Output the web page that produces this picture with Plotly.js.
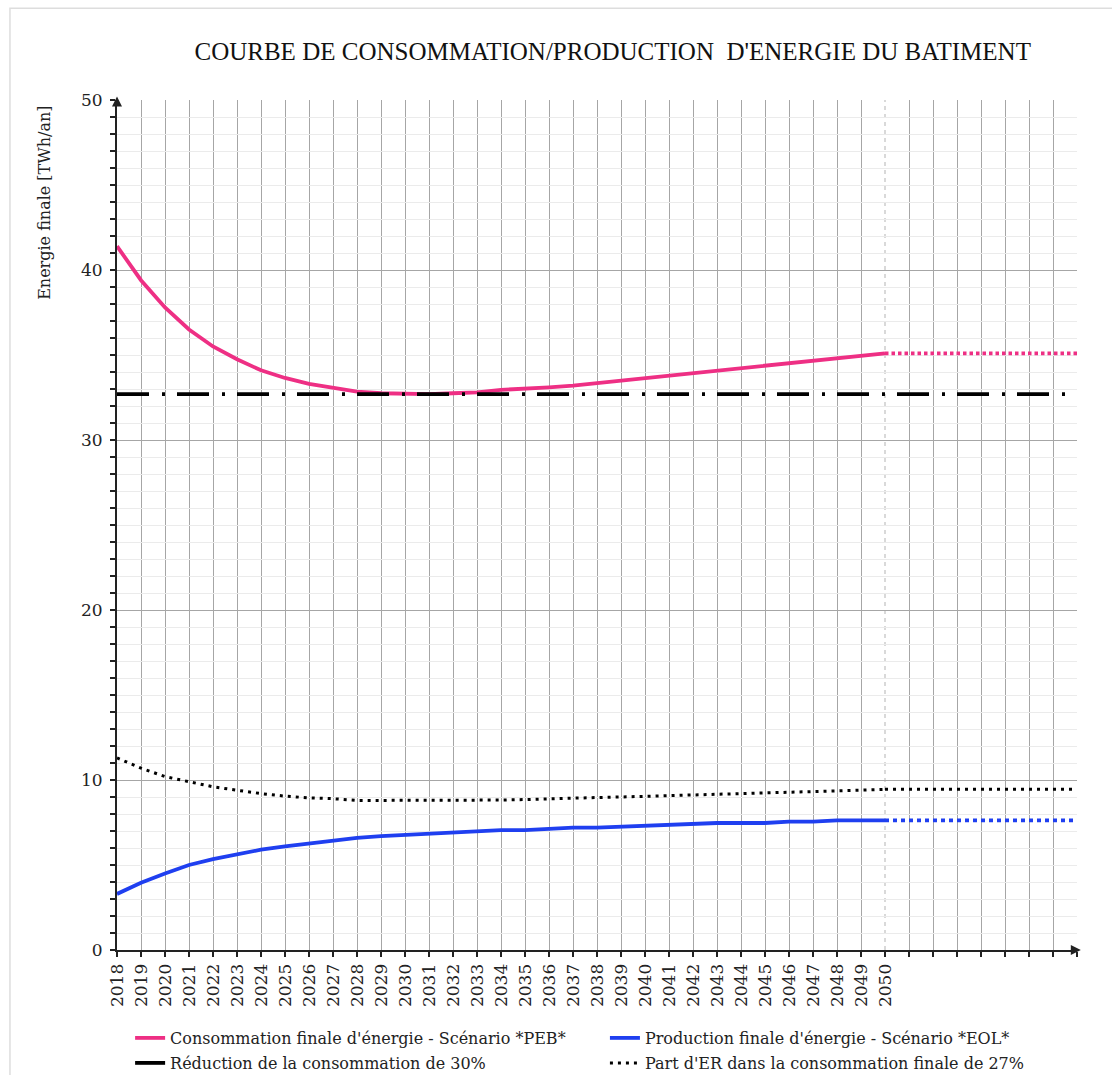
<!DOCTYPE html>
<html>
<head>
<meta charset="utf-8">
<script src="https://cdn.plot.ly/plotly-3.0.1.min.js"></script>
<style>
  html, body { margin: 0; padding: 0; background: #ffffff; }
  #chart { width: 1112px; height: 1075px; }
</style>
</head>
<body>
<div id="chart"></div>
<script>
// ---- Data ----
const years = [2018, 2019, 2020, 2021, 2022, 2023, 2024, 2025, 2026, 2027, 2028,
  2029, 2030, 2031, 2032, 2033, 2034, 2035, 2036, 2037, 2038, 2039, 2040,
  2041, 2042, 2043, 2044, 2045, 2046, 2047, 2048, 2049, 2050];

// Consommation finale d'énergie - Scénario *PEB* (TWh/an)
const consumptionPEB = [41.4, 39.4, 37.8, 36.5, 35.5, 34.75, 34.1, 33.65, 33.3, 33.05, 32.85,
  32.75, 32.7, 32.7, 32.75, 32.8, 32.95, 33.0, 33.1, 33.2, 33.35, 33.5, 33.6,
  33.75, 33.9, 34.05, 34.2, 34.35, 34.5, 34.65, 34.8, 34.95, 35.1];

// Production finale d'énergie - Scénario *EOL* (TWh/an)
const productionEOL = [3.3, 3.95, 4.5, 5.0, 5.35, 5.65, 5.9, 6.1, 6.28, 6.45, 6.6,
  6.7, 6.76, 6.83, 6.9, 6.97, 7.05, 7.05, 7.13, 7.2, 7.2, 7.25, 7.3,
  7.4, 7.4, 7.47, 7.47, 7.47, 7.55, 7.55, 7.63, 7.63, 7.63];

// Part d'ER dans la consommation finale de 27% (TWh/an)
const renewableShare = [11.3, 10.7, 10.2, 9.9, 9.6, 9.4, 9.2, 9.05, 8.95, 8.9, 8.8,
  8.8, 8.8, 8.8, 8.8, 8.8, 8.82, 8.85, 8.9, 8.93, 8.97, 9.0, 9.05,
  9.08, 9.12, 9.16, 9.2, 9.23, 9.27, 9.31, 9.36, 9.4, 9.45];

// Réduction de la consommation de 30% (constant target)
const targetYears = [2018, 2057.6];
const targetValue = [32.7, 32.7];

// Projection beyond the last year (values held flat)
const projectionYears = [2050, 2058];

// Axis tick labels
const axisYears = [];
for (let y = 2018; y <= 2058; y++) axisYears.push(y);
const axisLabels = axisYears.map(y => (y <= 2050 ? String(y) : ''));
const gridYears = axisYears.filter(y => y !== 2050);

const legendLabels = [
  "Consommation finale d'énergie - Scénario *PEB*",
  "Production finale d'énergie - Scénario *EOL*",
  "Réduction de la consommation de 30%",
  "Part d'ER dans la consommation finale de 27%"
];

const pink = '#ee2f84';
const blue = '#1f3ff0';
const serif = "'DejaVu Serif', 'Liberation Serif', serif";
const titleSerif = "'Liberation Serif', 'DejaVu Serif', serif";

const last = a => a[a.length - 1];

const traces = [
  { x: years, y: consumptionPEB, name: legendLabels[0], mode: 'lines',
    line: { color: pink, width: 3.8 }, legend: 'legend' },
  { x: years, y: productionEOL, name: legendLabels[1], mode: 'lines',
    line: { color: blue, width: 3.8 }, legend: 'legend2' },
  { x: targetYears, y: targetValue, name: legendLabels[2], mode: 'lines',
    line: { color: '#000000', width: 3.8, dash: '32px,13px,3px,12px' }, legend: 'legend3' },
  { x: years, y: renewableShare, name: legendLabels[3], mode: 'lines',
    line: { color: '#000000', width: 3, dash: '3px,5px' }, legend: 'legend4' },
  { x: projectionYears, y: [last(consumptionPEB), last(consumptionPEB)], mode: 'lines',
    line: { color: pink, width: 3.8, dash: '3.5px,3px' }, showlegend: false },
  { x: projectionYears, y: [last(productionEOL), last(productionEOL)], mode: 'lines',
    line: { color: blue, width: 3.8, dash: '4px,4px' }, showlegend: false },
  { x: projectionYears, y: [last(renewableShare), last(renewableShare)], mode: 'lines',
    line: { color: '#000000', width: 3, dash: '3px,5px' }, showlegend: false }
];

function legendAt(x, y) {
  return {
    orientation: 'h',
    xref: 'container', yref: 'container',
    xanchor: 'left', yanchor: 'middle',
    x: x, y: y,
    itemwidth: 30,
    font: { family: serif, size: 16, color: '#222222' },
    bgcolor: 'rgba(0,0,0,0)'
  };
}
const col1 = 0.117, col2 = 0.544;
const row1 = (1075 - 1038) / 1075, row2 = (1075 - 1063) / 1075;

const layout = {
  width: 1112,
  height: 1075,
  font: { family: serif, size: 16, color: '#222222' },
  paper_bgcolor: '#ffffff',
  plot_bgcolor: '#ffffff',
  margin: { l: 117, r: 35, t: 100, b: 125 },
  showlegend: true,
  title: {
    text: "COURBE DE CONSOMMATION/PRODUCTION  D'ENERGIE DU BATIMENT",
    font: { family: titleSerif, size: 25, color: '#111111' },
    x: 0.551, xanchor: 'center', xref: 'container',
    y: 0.952, yanchor: 'middle', yref: 'container'
  },
  xaxis: {
    range: [2018, 2058],
    tickmode: 'array',
    tickvals: axisYears,
    ticktext: axisLabels,
    tickangle: -90,
    tickfont: { family: serif, size: 17, color: '#222222' },
    ticks: 'outside', ticklen: 5, tickwidth: 1.2, tickcolor: '#222222',
    showgrid: false,
    minor: { tickmode: 'array', tickvals: gridYears, showgrid: true,
             gridcolor: '#a6a6a6', gridwidth: 1, ticks: '' },
    showline: true, linecolor: '#222222', linewidth: 2,
    zeroline: false, fixedrange: true
  },
  yaxis: {
    range: [0, 50],
    tickmode: 'linear', tick0: 0, dtick: 10,
    tickfont: { family: serif, size: 17, color: '#222222' },
    ticks: 'outside', ticklen: 5, tickwidth: 1.2, tickcolor: '#222222',
    ticklabelstandoff: 4,
    showgrid: true, gridcolor: '#a6a6a6', gridwidth: 1,
    minor: { dtick: 1, showgrid: true, gridcolor: '#ebebeb', gridwidth: 1,
             ticks: 'outside', ticklen: 5, tickwidth: 1.2, tickcolor: '#222222' },
    showline: true, linecolor: '#222222', linewidth: 2,
    zeroline: false, fixedrange: true
  },
  legend: legendAt(col1, row1),
  legend2: legendAt(col2, row1),
  legend3: legendAt(col1, row2),
  legend4: legendAt(col2, row2),
  shapes: [
    { type: 'line', xref: 'x', yref: 'paper', x0: last(years), x1: last(years), y0: 0, y1: 1,
      line: { color: '#b3b3b3', width: 1, dash: '4px,4px' }, layer: 'below' },
    { type: 'rect', xref: 'paper', yref: 'paper', x0: -0.1115, x1: 1.2, y0: -0.3, y1: 1.108,
      line: { color: '#dddddd', width: 1.5 }, fillcolor: 'rgba(0,0,0,0)', layer: 'below' }
  ],
  annotations: [
    { text: 'Energie finale [TWh/an]', xref: 'paper', yref: 'paper',
      x: -0.075, y: 0.879, textangle: -90, showarrow: false,
      xanchor: 'center', yanchor: 'middle',
      font: { family: serif, size: 16, color: '#222222' } },
    { text: '', xref: 'paper', yref: 'paper', x: 1.004, y: 0, ax: -10, ay: 0,
      showarrow: true, arrowhead: 2, arrowsize: 1, arrowwidth: 2, arrowcolor: '#222222' },
    { text: '', xref: 'paper', yref: 'paper', x: 0, y: 1.004, ax: 0, ay: 10,
      showarrow: true, arrowhead: 2, arrowsize: 1, arrowwidth: 2, arrowcolor: '#222222' }
  ]
};

Plotly.newPlot('chart', traces, layout, { displayModeBar: false, staticPlot: true });
</script>
</body>
</html>
